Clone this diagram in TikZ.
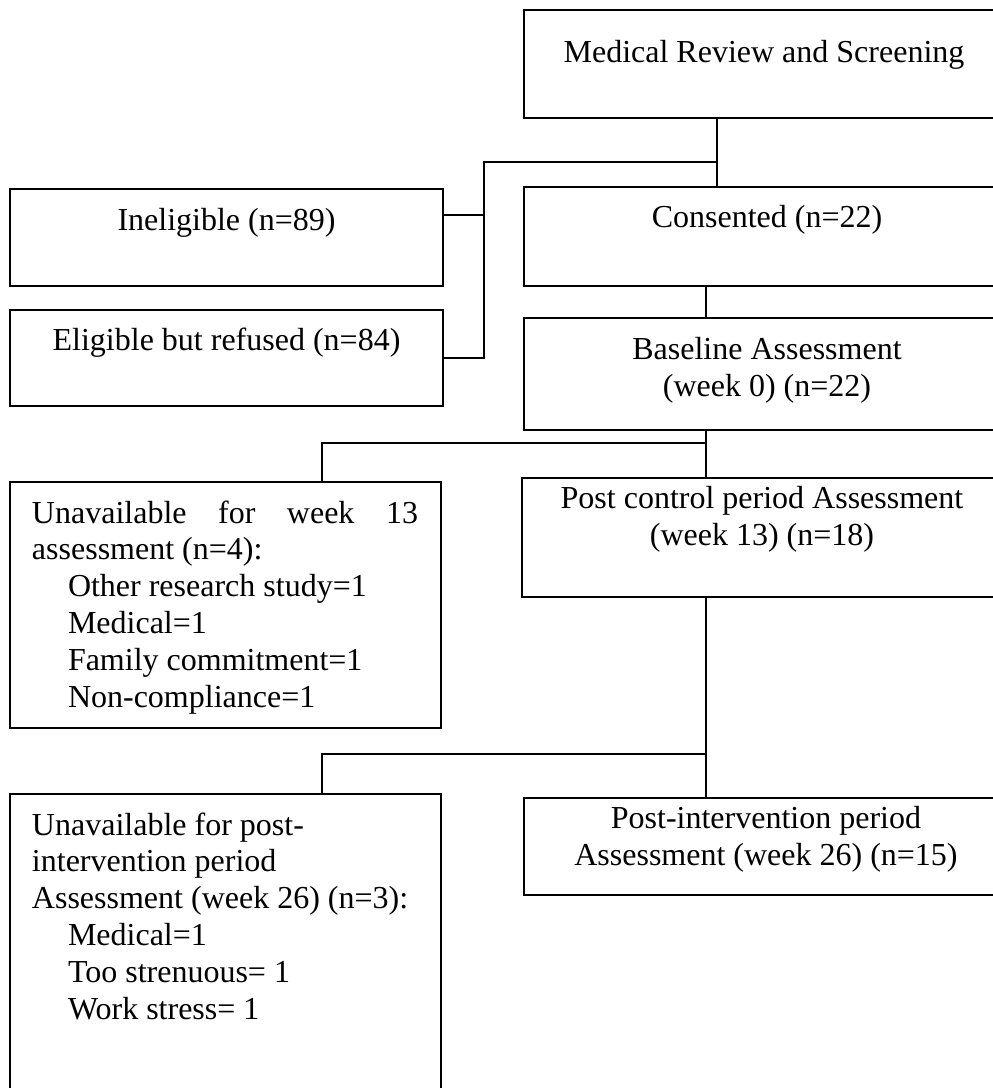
\documentclass[tikz,border=0pt]{standalone}
\usepackage{fontspec}
\setmainfont{Liberation Serif}
\usepackage{tikz}

\begin{document}
\begin{tikzpicture}[x=0.375pt,y=-0.375pt,
    box/.style={draw=black,line width=0.75pt},
    link/.style={draw=black,line width=0.7pt},
    txt/.style={font=\fontsize{12pt}{13.8pt}\selectfont}]
            \tikzstyle{every node}+=[inner sep=0pt,outer sep=0pt]
            \useasboundingbox (0,0) rectangle (993,1088);
            \clip (0,0) rectangle (993,1088);
            % boxes
            \node [box,minimum width=180pt,minimum height=40.5pt] (med) at (764,64) {};
            \node [box,minimum width=162.375pt,minimum height=36.375pt] (inel) at (226.5,237.5) {};
            \node [box,minimum width=162.375pt,minimum height=36pt] (elig) at (226.5,358) {};
            \node [box,minimum width=182.25pt,minimum height=37.125pt] (cons) at (767,236.5) {};
            \node [box,minimum width=182.25pt,minimum height=42pt] (base) at (767,374) {};
            \node [box,minimum width=161.625pt,minimum height=92.25pt] (lossA) at (225.5,605) {};
            \node [box,minimum width=180pt,minimum height=44.625pt] (ctrl) at (762,537.5) {};
            \node [box,minimum width=161.625pt,minimum height=114.75pt] (lossB) at (225.5,947) {};
            \node [box,minimum width=181.5pt,minimum height=36.375pt] (intv) at (766,846.5) {};
            % texts (base = last line)
            \node [txt,anchor=base] (medT) at (764,62) {Medical Review and Screening};
            \node [txt,anchor=base] (inelT) at (226.5,230) {Ineligible (n=89)};
            \node [txt,anchor=base] (eligT) at (226.5,350) {Eligible but refused (n=84)};
            \node [txt,anchor=base] (consT) at (767,227) {Consented (n=22)};
            \node [txt,anchor=base,align=center] (baseT) at (767,396) {Baseline Assessment\\(week 0) (n=22)};
            \node [txt,anchor=base,align=center] (ctrlT) at (762,545) {Post control period Assessment\\(week 13) (n=18)};
            \node [txt,anchor=base,align=center] (intvT) at (766,865) {Post-intervention period\\Assessment (week 26) (n=15)};
            \node [txt,anchor=base west,align=left] (lossAT) at (32,707) {\makebox[144.75pt][s]{Unavailable for week 13}\\assessment (n=4):\\\hspace*{13.5pt}Other research study=1\\\hspace*{13.5pt}Medical=1\\\hspace*{13.5pt}Family commitment=1\\\hspace*{13.5pt}Non-compliance=1};
            \node [txt,anchor=base west,align=left] (lossBT) at (32,1019) {Unavailable for post-\\intervention period\\Assessment (week 26) (n=3):\\\hspace*{13.5pt}Medical=1\\\hspace*{13.5pt}Too strenuous= 1\\\hspace*{13.5pt}Work stress= 1};
            % connectors
            \coordinate (ja) at (717,162);
            \coordinate (jb) at (484,162);
            \coordinate (jc) at (484,215);
            \draw [link] (ja |- med.south) -- (ja |- cons.north);
            \draw [link] (ja) -- (jb) |- (elig.east);
            \draw [link] (jc) -- (jc -| inel.east);
            \coordinate (spine) at (706,443);
            \coordinate (jl) at (322,443);
            \draw [link] (spine |- cons.south) -- (spine |- base.north);
            \draw [link] (spine |- base.south) -- (spine |- ctrl.north);
            \draw [link] (spine) -- (jl) -- (jl |- lossA.north);
            \coordinate (spineb) at (706,754);
            \coordinate (jm) at (322,754);
            \draw [link] (spineb |- ctrl.south) -- (spineb |- intv.north);
            \draw [link] (spineb) -- (jm) -- (jm |- lossB.north);
\end{tikzpicture}
\end{document}
